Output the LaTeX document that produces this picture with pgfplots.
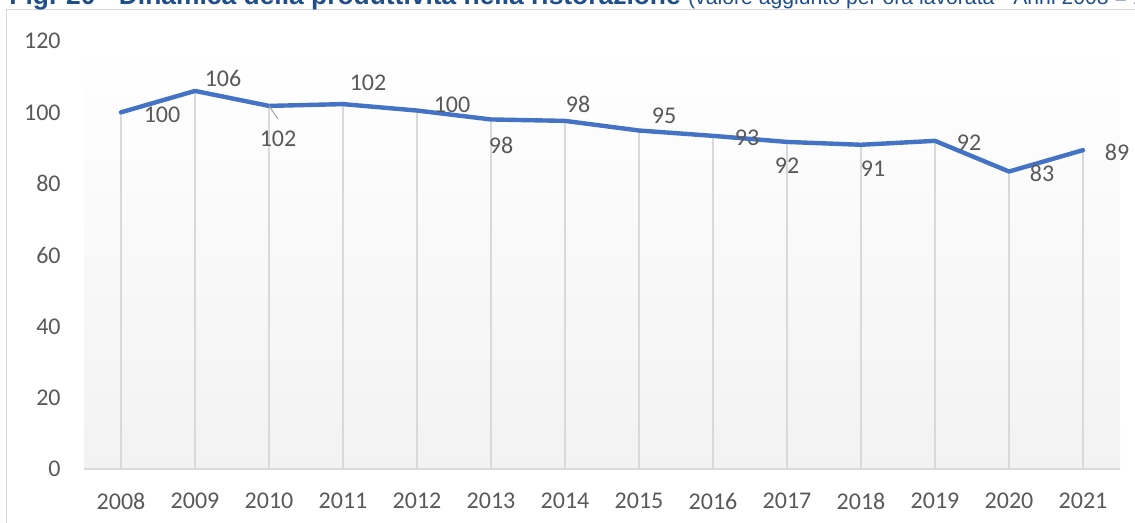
\documentclass[border=0pt]{standalone}
\usepackage{pgfplots}
\usepackage{pgfplotstable}
\pgfplotsset{compat=1.18}
\usepackage{fontspec}
\setmainfont{Carlito}
\newfontfamily\arialf{Liberation Sans}
\definecolor{lineblue}{HTML}{4472C4}
\definecolor{labgray}{HTML}{595959}
\definecolor{gridgray}{HTML}{D9D9D9}
\definecolor{titleblue}{HTML}{1F4E89}

\pgfplotstableread{
x y lab dx dy
0 100.0 100 20.5 -1
1 106.0 106 14 6
2 101.8 102 4.5 -16.5
3 102.3 102 12.5 10.5
4 100.5 100 17.5 3
5 98.0 98 5 -13
6 97.6 98 6.5 8
7 94.9 95 12.5 7.5
8 93.4 93 17 -1
9 91.7 92 0 -12
10 90.9 91 6 -12
11 92.0 92 17 -1
12 83.4 83 16.5 -1
13 89.4 89 17 -1
}\data

\begin{document}
\begin{tikzpicture}
% frame
\draw[gridgray, line width=0.6pt] (3.3pt,-5pt) -- (3.3pt,256.7pt) -- (580pt,256.7pt);
% clipped title
\node[anchor=base west, inner sep=0pt, text=titleblue] at (4.5pt,259pt)
  {\arialf\fontsize{13.2}{15}\selectfont\bfseries Fig. 20 - Dinamica della produttività nella ristorazione \fontsize{10.6}{12}\selectfont\mdseries (valore aggiunto per ora lavorata - Anni 2008 = 100)};
\begin{axis}[
  at={(42pt,27pt)}, anchor=south west,
  scale only axis, width=518pt, height=214pt,
  xmin=-0.5, xmax=13.5, ymin=0, ymax=120,
  xtick={0,...,13},
  xticklabels={2008,2009,2010,2011,2012,2013,2014,2015,2016,2017,2018,2019,2020,2021},
  ytick={0,20,...,120},
  axis lines=left,
  axis line style={-},
  y axis line style={draw=none},
  x axis line style={draw=gridgray, line width=0.75pt},
  major tick length=0pt,
  tick style={draw=none},
  /pgf/number format/assume math mode=true,
  tick label style={font=\fontsize{12}{14}\selectfont, text=labgray},
  xticklabel style={anchor=north, inner sep=0pt, yshift=-11.8pt},
  yticklabel style={anchor=east, inner sep=0pt, xshift=-11.5pt},
  axis background/.style={shade, top color=white, bottom color=black!5},
  clip=false,
]
\addplot[ycomb, draw=gridgray, line width=0.65pt] table[x=x,y=y] {\data};
\addplot[color=lineblue, line width=2.2pt, line join=round, line cap=round,
  point meta=explicit symbolic,
  visualization depends on={\thisrow{dx}\as\dx},
  visualization depends on={\thisrow{dy}\as\dy},
  nodes near coords,
  every node near coord/.append style={anchor=center, inner sep=0pt,
    xshift=\dx pt, yshift=\dy pt, font=\fontsize{12}{14}\selectfont, text=labgray},
] table[x=x,y=y,meta=lab] {\data};
\draw[gray!70, line width=0.5pt] (axis cs:2,101.8) -- ++(4.5pt,-6.5pt);
\end{axis}
\pgfresetboundingbox
\path[use as bounding box] (0,0) rectangle (567.5pt,261.5pt);
\end{tikzpicture}
\end{document}
